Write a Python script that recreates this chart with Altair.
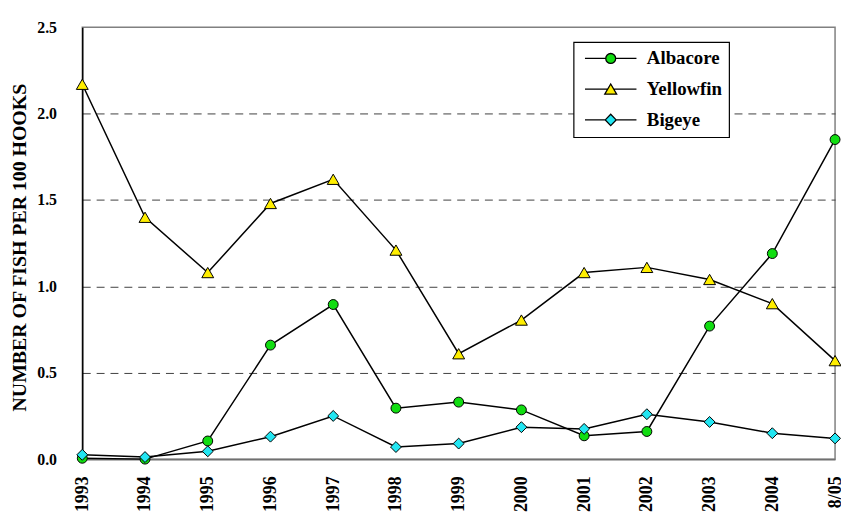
import altair as alt
import pandas as pd

periods = ["1993", "1994", "1995", "1996", "1997", "1998", "1999",
           "2000", "2001", "2002", "2003", "2004", "8/05"]
albacore = [0.005, 0.0, 0.105, 0.66, 0.895, 0.295, 0.33, 0.285, 0.135, 0.16, 0.77, 1.19, 1.85]
yellowfin = [2.17, 1.40, 1.08, 1.48, 1.62, 1.21, 0.61, 0.805, 1.08, 1.11, 1.04, 0.90, 0.57]
bigeye = [0.025, 0.012, 0.045, 0.13, 0.25, 0.07, 0.09, 0.185, 0.175, 0.26, 0.215, 0.15, 0.12]
series_names = ["Albacore", "Yellowfin", "Bigeye"]
y_ticks = [0.0, 0.5, 1.0, 1.5, 2.0, 2.5]

rows = []
for name, vals in zip(series_names, [albacore, yellowfin, bigeye]):
    for p, v in zip(periods, vals):
        rows.append({"period": p, "series": name, "value": v})
df = pd.DataFrame(rows)

FONT = "Liberation Serif"
fills = ["#11dd11", "#ffee00", "#22e6f2"]
shapes = ["circle", "triangle-up", "diamond"]
sizes = [100, 144, 121]
# legend symbols: line with marker in the middle (unit = 5px at symbolSize 100)
legend_paths = [
    "M-1,0H3.2M5.2,0H9.4M5.2,0A1,1 0 1 1 3.2,0A1,1 0 1 1 5.2,0Z",
    "M-1,0H3.6M4.8,0H9.4M4.2,-1.05L5.4,1.0L3.0,1.0Z",
    "M-1,0H3.1M5.3,0H9.4M4.2,-1.15L5.3,0L4.2,1.15L3.1,0Z",
]

x = alt.X("period:N", sort=periods,
          scale=alt.Scale(domain=periods, padding=0),
          axis=alt.Axis(title=None, labelAngle=270, labelFont=FONT, labelFontSize=18,
                        labelFontWeight="bold", labelColor="black", labelPadding=17,
                        ticks=False, tickSize=0, domainColor="#707070", domainWidth=2,
                        grid=False))
y = alt.Y("value:Q",
          scale=alt.Scale(domain=[0, 2.5], nice=False, zero=True),
          axis=alt.Axis(values=y_ticks, format=".1f", title="NUMBER OF FISH PER 100 HOOKS",
                        titleFont=FONT, titleFontSize=20, titleFontWeight="bold",
                        titleColor="black", titleX=-63, titleY=222, titleAngle=270,
                        titleBaseline="middle", titleAlign="center",
                        labelFont=FONT, labelFontSize=16, labelFontWeight="bold",
                        labelColor="black", labelPadding=26, ticks=False, tickSize=0,
                        domainColor="black", domainWidth=1.5,
                        grid=True, gridColor="#404040", gridWidth=1, gridDash=[8, 6],
                        gridOpacity={"condition": {"test": "datum.value <= 0 || datum.value >= 2.5",
                                                   "value": 0}, "value": 1}))

base = alt.Chart(df)
lines = base.mark_line(color="black", strokeWidth=1.5).encode(x=x, y=y, detail="series:N")

layers = [lines]
for name, shp, col, sz in zip(series_names, shapes, fills, sizes):
    layers.append(
        base.transform_filter(alt.datum.series == name)
        .mark_point(filled=True, shape=shp, fill=col, stroke="black", strokeWidth=1,
                    size=sz, opacity=1)
        .encode(x=x, y=y)
    )

legend_layer = (
    base.transform_filter("datum.value < -100")
    .mark_point(filled=True, strokeWidth=1.3, opacity=1, size=100)
    .encode(
        x=x, y=y,
        shape=alt.Shape("series:N", scale=alt.Scale(domain=series_names, range=legend_paths),
                        legend=alt.Legend(title=None)),
        fill=alt.Fill("series:N", scale=alt.Scale(domain=series_names, range=fills),
                      legend=alt.Legend(title=None)),
        stroke=alt.Stroke("series:N", scale=alt.Scale(domain=series_names,
                                                      range=["black", "black", "black"]),
                          legend=alt.Legend(title=None)),
    )
)
layers.append(legend_layer)

chart = (
    alt.layer(*layers)
    .properties(width=760, height=436,
                autosize=alt.AutoSizeParams(type="none"),
                padding={"left": 75, "top": 17, "right": 6, "bottom": 58})
    .configure(font=FONT)
    .configure_view(stroke="#808080", strokeWidth=1.5)
    .configure_legend(orient="none", legendX=496, legendY=15, padding=7,
                      strokeColor="black", fillColor="white", strokeWidth=1.2,
                      cornerRadius=0, symbolSize=100, symbolStrokeColor="black",
                      symbolStrokeWidth=1.3, symbolOpacity=1,
                      labelFont=FONT, labelFontSize=19, labelFontWeight="bold",
                      labelColor="black", labelOffset=48, rowPadding=11,
                      labelBaseline="middle")
)

chart.save("out.html", embed_options={"renderer": "svg", "actions": False})
